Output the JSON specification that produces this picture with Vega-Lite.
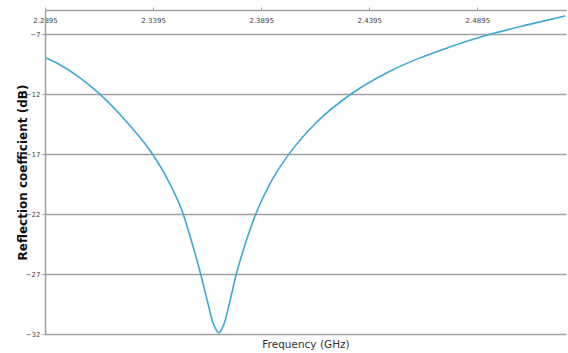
{
  "$schema": "https://vega.github.io/schema/vega-lite/v6.json",
  "width": 521,
  "height": 324,
  "autosize": {"type": "none"},
  "padding": {"left": 45, "top": 10, "right": 2, "bottom": 19},
  "background": "white",
  "config": {
    "view": {"stroke": null},
    "axis": {"labelFont": "DejaVu Sans", "titleFont": "DejaVu Sans"}
  },
  "data": {
    "values": [
      {"f": 2.2900, "db": -9.0},
      {"f": 2.2964, "db": -9.56},
      {"f": 2.3057, "db": -10.66},
      {"f": 2.3146, "db": -11.97},
      {"f": 2.3274, "db": -14.35},
      {"f": 2.3392, "db": -17.0},
      {"f": 2.3463, "db": -19.15},
      {"f": 2.3534, "db": -22.0},
      {"f": 2.3574, "db": -24.35},
      {"f": 2.3615, "db": -27.0},
      {"f": 2.3648, "db": -29.4},
      {"f": 2.3671, "db": -31.0},
      {"f": 2.3685, "db": -31.6},
      {"f": 2.3699, "db": -31.9},
      {"f": 2.3713, "db": -31.6},
      {"f": 2.3726, "db": -31.0},
      {"f": 2.3750, "db": -29.3},
      {"f": 2.3780, "db": -27.0},
      {"f": 2.3823, "db": -24.4},
      {"f": 2.3870, "db": -22.0},
      {"f": 2.3925, "db": -19.84},
      {"f": 2.3971, "db": -18.39},
      {"f": 2.4026, "db": -16.95},
      {"f": 2.4155, "db": -14.29},
      {"f": 2.4311, "db": -12.0},
      {"f": 2.4488, "db": -10.12},
      {"f": 2.4627, "db": -9.01},
      {"f": 2.4719, "db": -8.39},
      {"f": 2.4958, "db": -7.0},
      {"f": 2.5135, "db": -6.2},
      {"f": 2.5301, "db": -5.5}
    ]
  },
  "layer": [
    {
      "mark": {"type": "line", "color": "#3ea8d2", "strokeWidth": 1.6, "interpolate": "monotone"},
      "encoding": {
        "x": {
          "field": "f", "type": "quantitative",
          "scale": {"domain": [2.2895, 2.5305], "nice": false, "zero": false},
          "axis": {
            "orient": "top", "title": null,
            "values": [2.2895, 2.3395, 2.3895, 2.4395, 2.4895],
            "format": ".4f", "grid": false,
            "domainColor": "#a0a0a0", "domainWidth": 1.5,
            "tickColor": "#a0a0a0", "tickSize": 3,
            "labelPadding": -16, "labelFontSize": 7, "labelColor": "#444444",
            "labelFlush": false
          }
        },
        "y": {
          "field": "db", "type": "quantitative",
          "scale": {"domain": [-32, -5], "nice": false, "zero": false},
          "axis": {
            "values": [-7, -12, -17, -22, -27, -32],
            "format": "d",
            "title": "Reflection coefficient (dB)",
            "titleFontSize": 12, "titleFontWeight": "bold", "titleColor": "#111111",
            "titleX": -23, "titleY": 162, "titleBaseline": "middle", "titleAlign": "center", "titleAngle": -90,
            "grid": true, "gridColor": "#a0a0a0", "gridWidth": 1.5,
            "domainColor": "#a0a0a0", "domainWidth": 1.5,
            "tickColor": "#a0a0a0", "tickSize": 3,
            "labelPadding": 2, "labelFontSize": 7, "labelColor": "#444444",
            "labelFlush": false
          }
        }
      }
    },
    {
      "mark": {"type": "line", "opacity": 0},
      "encoding": {
        "x": {
          "field": "f", "type": "quantitative",
          "axis": {
            "orient": "bottom", "title": "Frequency (GHz)",
            "labels": false, "ticks": false, "domain": false, "grid": false,
            "titleFontSize": 10.5, "titleFontWeight": "normal", "titleColor": "#333333",
            "titleY": 10, "titleBaseline": "middle"
          }
        },
        "y": {"field": "db", "type": "quantitative"}
      }
    }
  ],
  "resolve": {"axis": {"x": "independent"}}
}
